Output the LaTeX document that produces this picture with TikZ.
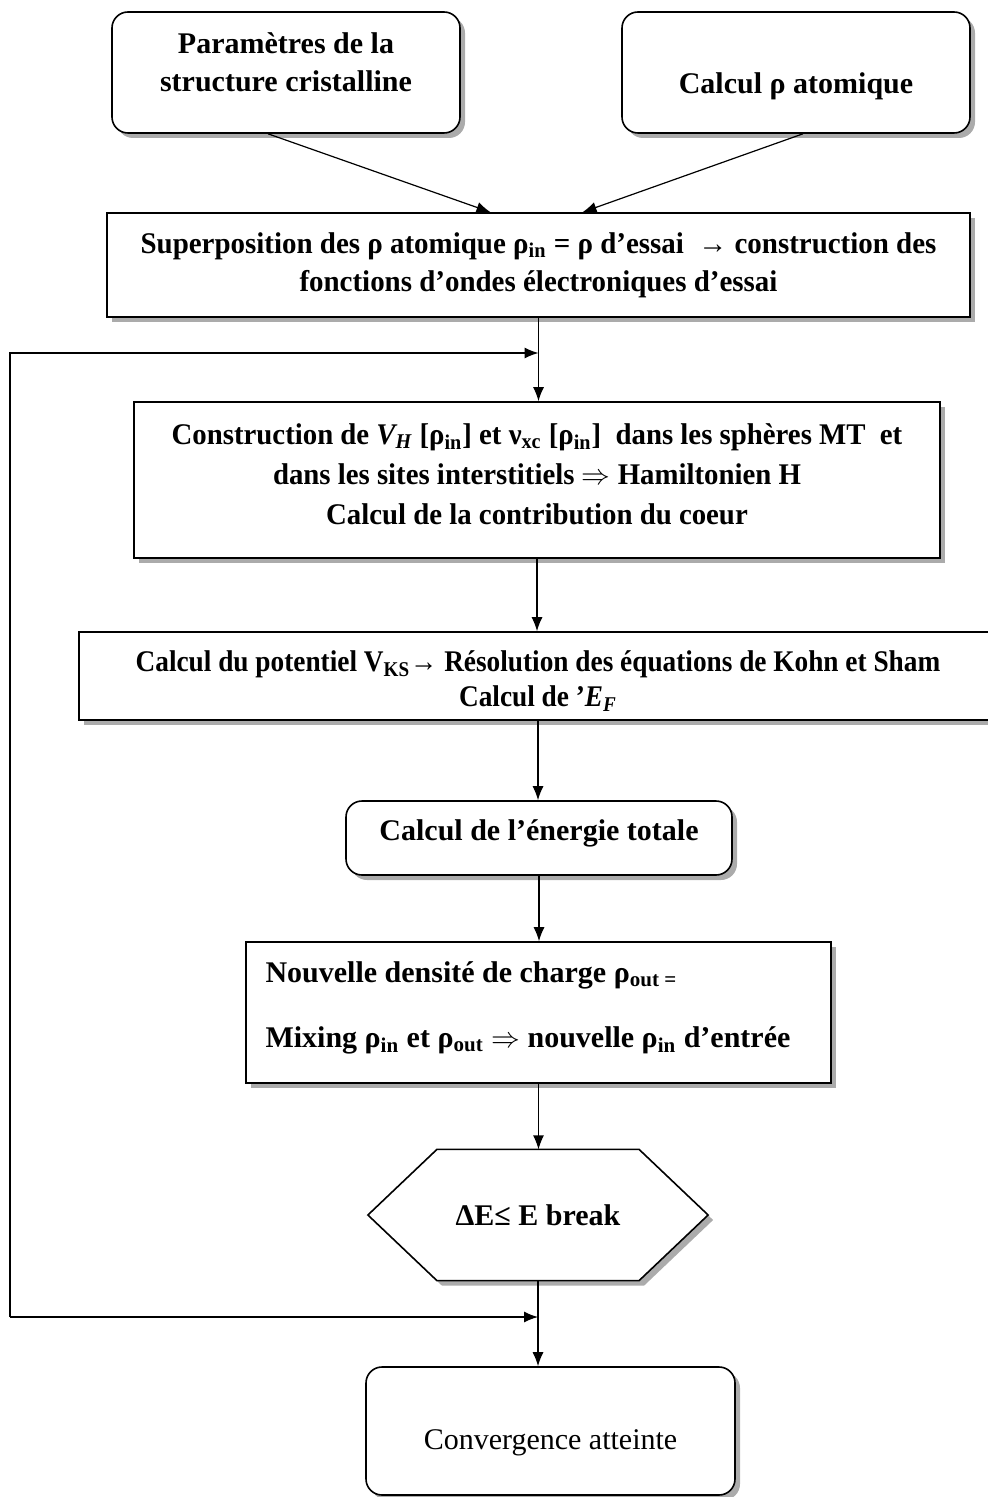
\documentclass[tikz,border=0pt]{standalone}
\usepackage{fontspec}
\setmainfont{Liberation Serif}
\usetikzlibrary{shapes,arrows.meta,positioning,shadows,calc,backgrounds}

\begin{document}
\begin{tikzpicture}[x=0.5pt,y=-0.5pt,->,>={Latex[length=7pt,width=5.5pt]},semithick,
  font=\fontsize{15}{19}\selectfont\bfseries,
  sbox/.style={draw,fill=white,line width=0.8pt,align=center,inner sep=3pt,
    drop shadow={shadow xshift=2.5pt,shadow yshift=-2.5pt,fill=black!55,opacity=.6}},
  rbox/.style={sbox,rounded corners=8pt},
  narrow/.style={font=\fontsize{15}{19}\selectfont\bfseries\addfontfeature{FakeStretch=#1}}]
  \useasboundingbox (0,0) rectangle (988,1497);

  \node[rbox,minimum width=174pt,minimum height=60.5pt,text height=29.3pt,text depth=10pt] (param) at (286,72.5)
    {Paramètres de la\\structure cristalline};
  \node[rbox,minimum width=174pt,minimum height=60.5pt,text height=24.3pt] (rhoat) at (796,72.5) {Calcul ρ atomique};
  \node[sbox,narrow=0.965,minimum width=431.5pt,minimum height=52pt] (super) at (538.5,265)
    {Superposition des ρ atomique ρ\textsubscript{in} = ρ d’essai \ → construction des\\fonctions d’ondes électroniques d’essai};
  \node[sbox,narrow=0.96,minimum width=403pt,minimum height=78pt,text height=50.5pt,text depth=6pt] (hartree) at (537,480)
    {Construction de \textit{V\textsubscript{H}} [ρ\textsubscript{in}] et ν\textsubscript{xc} [ρ\textsubscript{in}] \ dans les sphères MT \ et\\[1pt]
     dans les sites interstitiels $\Rightarrow$ Hamiltonien H\\[1pt]
     Calcul de la contribution du coeur};
  \node[sbox,narrow=0.91,minimum width=459pt,minimum height=44pt,text height=32.9pt] (kohn) at (538,676)
    {Calcul du potentiel V\textsubscript{KS}→ Résolution des équations de Kohn et Sham\\[-1.5pt]Calcul de ’\textit{E\textsubscript{F}}};
  \node[rbox,minimum width=193pt,minimum height=37pt,text depth=8.3pt] (etot) at (539,838) {Calcul de l’énergie totale};
  \node[sbox,minimum width=292.5pt,minimum height=70.5pt,align=flush left,text width=273pt,inner xsep=9.5pt,text depth=40.5pt] (mix) at (538.5,1012.5)
    {Nouvelle densité de charge ρ\textsubscript{out =}\\[13.5pt]
     Mixing ρ\textsubscript{in} et ρ\textsubscript{out} $\Rightarrow$ nouvelle ρ\textsubscript{in} d’entrée};
  \node[minimum width=169.5pt,minimum height=65pt] (conv) at (538,1215) {ΔE≤ E break\hspace{7pt}};
  \node[rbox,minimum width=184.5pt,minimum height=64pt,font=\fontsize{15}{19}\selectfont,text height=21.3pt] (done) at (550.5,1431)
    {Convergence atteinte};

  % hexagon round the test
  \begin{scope}[on background layer]
    \draw[-,fill=white,line width=0.8pt,drop shadow={shadow xshift=2.5pt,shadow yshift=-2.5pt,fill=black!55,opacity=.6}]
      (conv.west) -- ([xshift=34.5pt]conv.north west) -- ([xshift=-34.5pt]conv.north east) -- (conv.east)
      -- ([xshift=-34.5pt]conv.south east) -- ([xshift=34.5pt]conv.south west) -- cycle;
  \end{scope}

  \draw ([xshift=-9pt]param.south) -- ([xshift=-24pt]super.north);
  \draw ([xshift=3.5pt]rhoat.south) -- ([xshift=22pt]super.north);
  \draw (super.south) -- (super.south |- hartree.north);
  \draw (hartree.south) -- (hartree.south |- kohn.north);
  \draw (kohn.south) -- (kohn.south |- etot.north);
  \draw (etot.south) -- (etot.south |- mix.north);
  \draw (mix.south) -- (mix.south |- conv.north);
  \draw (conv.south) -- (conv.south |- done.north);

  % loop back
  \coordinate (retB) at (10,1317);
  \coordinate (retT) at (10,353);
  \draw (retB) -- (retB -| conv.south);
  \draw (retB) -- (retT) -- (retT -| super.south);
\end{tikzpicture}
\end{document}
